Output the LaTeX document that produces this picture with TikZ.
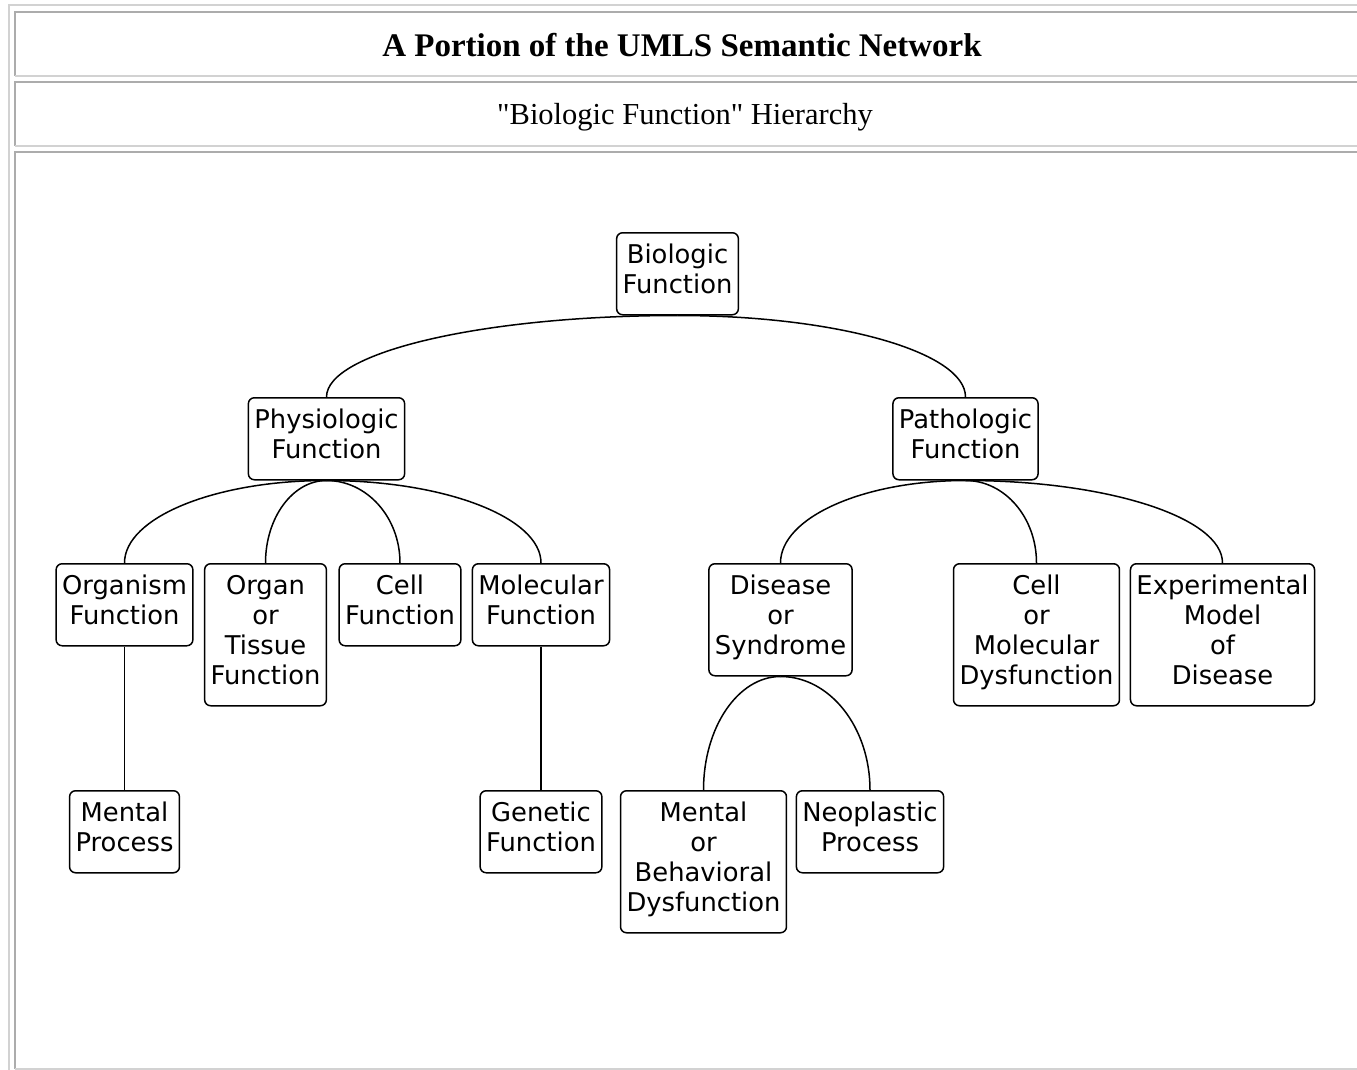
\documentclass[tikz,border=0pt]{standalone}
\usepackage{fontspec}
\setmainfont{Liberation Serif}[Ligatures=TeXOff]
\newfontfamily\boxfont{DejaVu Sans}
\usetikzlibrary{calc}
\begin{document}
\begin{tikzpicture}[x=1pt, y=-1pt]
    % styles
    \tikzstyle{concept}=[draw, line width=1.5pt, rounded corners=6pt, anchor=north, align=center,
        inner xsep=6pt, inner ysep=11pt, font={\boxfont\fontsize{25.8}{30}\selectfont},
        execute at begin node={\rule{0pt}{20pt}}, execute at end node={\rule[-10pt]{0pt}{10pt}}]
    \tikzstyle{two}=[minimum height=82pt]
    \tikzstyle{three}=[minimum height=112pt]
    \tikzstyle{four}=[minimum height=142pt]
    \tikzstyle{branch}=[line width=1.5pt, to path={.. controls ($(\tikztostart)!0.552!(\tikztostart -| \tikztotarget)$)
        and ($(\tikztotarget)!0.552!(\tikztostart -| \tikztotarget)$) .. (\tikztotarget)}]
    \tikzstyle{raised}=[gray!35, line width=2pt]
    \tikzstyle{sunken}=[gray!65, line width=2pt]

    \useasboundingbox (0,0) rectangle (1357,1070);

    % table frame
    \draw[raised] (9,1070) |- (1357,5);
    \draw[sunken] (15,76) |- (1357,12);
    \draw[raised] (15,76) -- (1357,76);
    \draw[sunken] (15,146) |- (1357,82);
    \draw[raised] (15,146) -- (1357,146);
    \draw[sunken] (15,1069) |- (1357,152);
    \draw[raised] (15,1069) -- (1357,1069);

    % headings
    \node (title) at (682,45) [font={\fontsize{33}{40}\selectfont\bfseries}] {A Portion of the UMLS Semantic Network};
    \node (subtitle) at (685,117) [font={\fontsize{30.5}{36}\selectfont}] {"Biologic Function" Hierarchy};

    % top
    \node[concept, two] (bio) at (677.5,232) {Biologic\\Function};

    % second row
    \node[concept, two] (phys) at (326.5,397) {Physiologic\\Function};
    \node[concept, two] (path) at (965.5,397) {Pathologic\\Function};

    % third row
    \node[concept, two] (org) at (124.5,563) {Organism\\Function};
    \node[concept, four] (organ) at (265.5,563) {Organ\\or\\Tissue\\Function};
    \node[concept, two] (cell) at (400,563) {Cell\\Function};
    \node[concept, two] (mol) at (541,563) {Molecular\\Function};
    \node[concept, three] (dis) at (780.5,563) {Disease\\or\\Syndrome};
    \node[concept, four] (cellmol) at (1036.5,563) {Cell\\or\\Molecular\\Dysfunction};
    \node[concept, four] (exp) at (1222.5,563) {Experimental\\Model\\of\\Disease};

    % bottom row
    \node[concept, two] (ment) at (124.5,790) {Mental\\Process};
    \node[concept, two] (gen) at (541,790) {Genetic\\Function};
    \node[concept, four] (mentbeh) at (703.5,790) {Mental\\or\\Behavioral\\Dysfunction};
    \node[concept, two] (neo) at (870,790) {Neoplastic\\Process};

    % links
    \draw[branch] (bio.south) to (phys.north);
    \draw[branch] (bio.south) to (path.north);

    \draw[branch] (phys.south) to (org.north);
    \draw[branch] (phys.south) to (organ.north);
    \draw[branch] (phys.south) to (cell.north);
    \draw[branch] (phys.south) to (mol.north);

    \draw[branch] (path.south) to (dis.north);
    \draw[branch] (path.south) to (cellmol.north);
    \draw[branch] (path.south) to (exp.north);

    \draw[branch] (org.south) to (ment.north);
    \draw[branch] (mol.south) to (gen.north);
    \draw[branch] (dis.south) to (mentbeh.north);
    \draw[branch] (dis.south) to (neo.north);
\end{tikzpicture}
\end{document}
